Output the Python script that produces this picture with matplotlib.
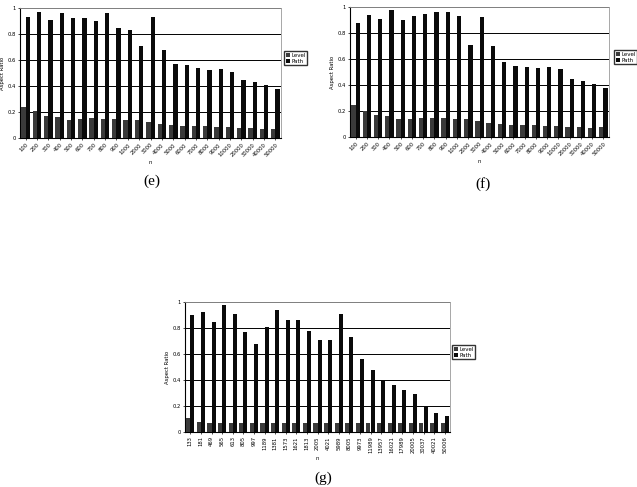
import numpy as np
import matplotlib
matplotlib.use('Agg')
from matplotlib import pyplot as plt

W, H = 637, 487

n_ef = ['100', '200', '300', '400', '500', '600', '700', '800', '900', '1000',
        '2000', '3000', '4000', '5000', '6000', '7000', '8000', '9000', '10000',
        '20000', '30000', '40000', '50000']

level_e = [0.24, 0.21, 0.17, 0.165, 0.14, 0.145, 0.155, 0.15, 0.15, 0.14, 0.135, 0.12,
           0.11, 0.10, 0.095, 0.09, 0.09, 0.085, 0.085, 0.08, 0.075, 0.07, 0.07]
path_e = [0.93, 0.97, 0.91, 0.96, 0.92, 0.92, 0.90, 0.96, 0.85, 0.83, 0.71, 0.93,
          0.68, 0.57, 0.56, 0.54, 0.52, 0.53, 0.51, 0.45, 0.43, 0.41, 0.38]

level_f = [0.25, 0.20, 0.17, 0.165, 0.14, 0.14, 0.145, 0.15, 0.15, 0.135, 0.14, 0.12,
           0.11, 0.10, 0.095, 0.09, 0.09, 0.085, 0.085, 0.08, 0.075, 0.07, 0.075]
path_f = [0.88, 0.94, 0.91, 0.98, 0.90, 0.93, 0.95, 0.96, 0.96, 0.93, 0.71, 0.92,
          0.70, 0.58, 0.55, 0.54, 0.53, 0.54, 0.52, 0.45, 0.43, 0.41, 0.38]

n_g = ['133', '181', '469', '565', '613', '805', '997', '1189', '1381', '1573',
       '1621', '1813', '2005', '4021', '5989', '8005', '9973', '11989', '13957',
       '16021', '17989', '20005', '30037', '40021', '50006']
level_g = [0.11, 0.08, 0.07, 0.07, 0.07, 0.07, 0.07, 0.07, 0.07, 0.07, 0.07, 0.07,
           0.07, 0.07, 0.07, 0.07, 0.07, 0.07, 0.07, 0.07, 0.07, 0.07, 0.07, 0.07, 0.07]
path_g = [0.90, 0.92, 0.85, 0.98, 0.91, 0.77, 0.68, 0.81, 0.94, 0.86, 0.86, 0.78,
          0.71, 0.71, 0.91, 0.73, 0.56, 0.48, 0.40, 0.36, 0.32, 0.29, 0.19, 0.15, 0.12]

LEVEL_C = '#3a3a3a'
PATH_C = '#0a0a0a'


def px_axes(fig, left, right, top, bottom):
    return fig.add_axes([left / W, 1 - bottom / H, (right - left) / W, (bottom - top) / H])


def bar_panel(fig, box, labels, level, path, rot, legend_xy, caption, cap_xy):
    ax = px_axes(fig, *box)
    x = np.arange(len(labels))
    w = 0.38
    ax.bar(x - w / 2, level, w, color=LEVEL_C, label='Level', zorder=3)
    ax.bar(x + w / 2, path, w, color=PATH_C, label='Path', zorder=3)
    ax.set_xlim(-0.5, len(labels) - 0.5)
    ax.set_ylim(0, 1)
    ax.set_yticks([0, 0.2, 0.4, 0.6, 0.8, 1])
    ax.set_yticklabels(['0', '0.2', '0.4', '0.6', '0.8', '1'], fontsize=3.8)
    ax.yaxis.grid(True, color='black', linewidth=0.7, zorder=0)
    ax.set_xticks(x)
    if rot == 45:
        ax.set_xticklabels(labels, rotation=45, ha='right', rotation_mode='anchor', fontsize=3.8)
    else:
        ax.set_xticklabels(labels, rotation=90, fontsize=3.8)
    ax.tick_params(axis='both', length=1.5, width=0.5, pad=1.5)
    for s in ['top', 'right']:
        ax.spines[s].set_color('#999999')
        ax.spines[s].set_linewidth(0.6)
    for s in ['left', 'bottom']:
        ax.spines[s].set_linewidth(0.8)
    ax.set_ylabel('Aspect Ratio', fontsize=3.8, labelpad=2)
    ax.set_xlabel('n', fontsize=3.8, labelpad=2)
    lx, ly = legend_xy
    ax.legend(loc='upper left', bbox_to_anchor=(lx / W, 1 - ly / H),
              bbox_transform=fig.transFigure, fontsize=4, frameon=True,
              fancybox=False, edgecolor='black', handlelength=0.7, handleheight=0.7,
              handletextpad=0.3, borderpad=0.3, labelspacing=0.2, borderaxespad=0)
    fig.text(cap_xy[0] / W, 1 - cap_xy[1] / H, caption, ha='center', va='center',
             fontsize=11, family='Liberation Serif')
    return ax


def main():
    fig = plt.figure(figsize=(W / 100, H / 100), dpi=100)
    bar_panel(fig, (20, 281, 8, 138), n_ef, level_e, path_e, 45, (284, 51), '(e)', (152, 181))
    bar_panel(fig, (350, 609, 7, 137), n_ef, level_f, path_f, 45, (614, 50), '(f)', (483, 184))
    bar_panel(fig, (185, 450, 302, 432), n_g, level_g, path_g, 90, (452, 345), '(g)', (323, 478))
    fig.savefig('out.png', dpi=100)
    plt.close(fig)


if __name__ == '__main__':
    main()
